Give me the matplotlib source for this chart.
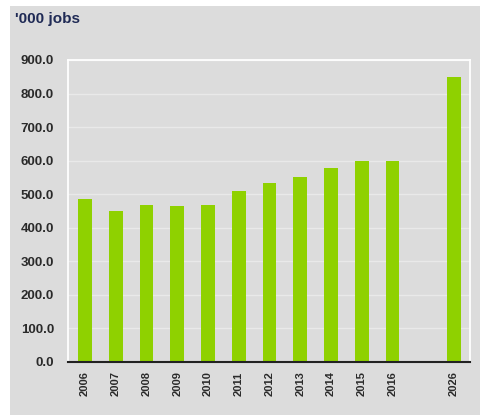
import matplotlib
matplotlib.use("Agg")
import matplotlib.pyplot as plt
from matplotlib.patches import Rectangle

years = ["2006", "2007", "2008", "2009", "2010", "2011", "2012", "2013",
         "2014", "2015", "2016", "2026"]
positions = [0, 1, 2, 3, 4, 5, 6, 7, 8, 9, 10, 12]
jobs = [486, 451, 467, 465, 467, 508, 533, 550, 579, 600, 599, 850]
yticks = [0, 100, 200, 300, 400, 500, 600, 700, 800, 900]

plt.rcParams['font.family'] = ['Liberation Sans', 'DejaVu Sans']

bg = "#dcdcdc"
fig = plt.figure(figsize=(4.81, 4.19), dpi=100, facecolor="white")
# gray panel with white strip on top/left
fig.patches.append(Rectangle((10/481, 0.01), 1 - 10/481, 1 - 6/419 - 0.01,
                             transform=fig.transFigure, facecolor=bg,
                             edgecolor="none", zorder=-10))

ax = fig.add_axes([68/481, 57.3/419, 402/481, 301.7/419])
ax.set_zorder(5)
ax.set_facecolor(bg)
ax.bar(positions, jobs, width=0.45, color="#8fd100", zorder=3)

ax.set_xlim(-0.55, 12.52)
ax.set_ylim(0, 900)
ax.set_yticks(yticks)
ax.set_yticklabels([f"{v:.1f}" for v in yticks], fontsize=9.5,
                   fontweight="bold", color="#2a2a2a")
ax.set_xticks(positions)
ax.set_xticklabels(years, rotation=90, fontsize=8, fontweight="bold",
                   color="#2a2a2a")
ax.tick_params(axis="both", length=0)
ax.tick_params(axis="y", pad=10)
ax.tick_params(axis="x", pad=7)

ax.grid(axis="y", color="#e9e9e9", linewidth=1.0, zorder=1)
for s in ["left", "top", "right"]:
    ax.spines[s].set_color("white")
    ax.spines[s].set_linewidth(1.3)
ax.spines["bottom"].set_color("#222222")
ax.spines["bottom"].set_linewidth(1.5)
ax.spines["bottom"].set_zorder(5)

fig.text(15/481, 1 - 19/419, "'000 jobs", fontsize=11, fontweight="bold",
         color="#1f2a55", va="center", ha="left")

fig.savefig("out.png", dpi=100, facecolor="white")
